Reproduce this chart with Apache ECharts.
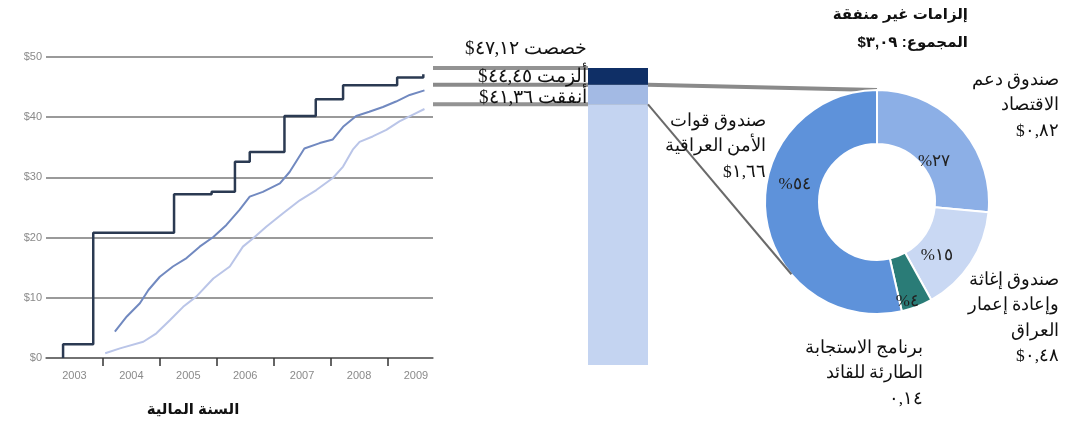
<!DOCTYPE html>
<html><head><meta charset="utf-8">
<script src="https://cdn.jsdelivr.net/npm/echarts@6/dist/echarts.min.js"></script>
<style>html,body{margin:0;padding:0;background:#fff}#c{width:1065px;height:430px;direction:rtl}</style>
</head><body><div id="c" dir="rtl"></div>
<script>
// ---------- data ----------
const yearLabels = ['2003','2004','2005','2006','2007','2008','2009'];
const yearLabelPos = [0.5,1.5,2.5,3.5,4.5,5.5,6.5];
const yearTickPos = [1,2,3,4,5,6];
const allotT = [0.30,0.30,0.83,2.25,2.91,3.32,3.58,4.19,4.74,5.22,6.17,6.63];
const allotV = [0,2.27,20.8,27.2,27.6,32.6,34.2,40.2,43.0,45.3,46.6,47.12];
const obligT = [1.21,1.42,1.65,1.80,2.00,2.23,2.47,2.70,2.94,3.17,3.40,3.58,3.81,4.11,4.28,4.54,4.81,5.04,5.22,5.45,5.68,5.92,6.15,6.39,6.65];
const obligV = [4.4,6.9,9.1,11.3,13.5,15.2,16.6,18.5,20.1,22.1,24.6,26.8,27.6,29.0,30.9,34.8,35.7,36.3,38.4,40.2,40.9,41.7,42.6,43.7,44.45];
const expendT = [1.04,1.30,1.71,1.94,2.18,2.41,2.64,2.94,3.23,3.46,3.64,3.87,4.16,4.46,4.75,5.04,5.22,5.39,5.51,5.74,5.98,6.21,6.44,6.65];
const expendV = [0.8,1.6,2.7,4.1,6.3,8.5,10.2,13.2,15.2,18.5,19.9,21.8,24.0,26.2,27.9,29.9,31.8,34.6,35.9,36.8,37.9,39.3,40.4,41.36];
const summaryLabels = ['خصصت','ألزمت','أنفقت'];
const summaryValues = [47.12, 44.45, 41.36];
const fundNames = ['صندوق دعم\nالاقتصاد','صندوق إغاثة\nوإعادة إعمار\nالعراق','برنامج الاستجابة\nالطارئة للقائد','صندوق قوات\nالأمن العراقية'];
const fundValues = [0.82, 0.48, 0.14, 1.66];
const fundPct = [27, 15, 4, 54];
const fundDollar = [true, true, false, true];
const titleLines = ['إلزامات غير منفقة', 'المجموع:'];
const unexpendedTotal = 3.09;
const xAxisName = 'السنة المالية';

// ---------- helpers ----------
const AR = '٠١٢٣٤٥٦٧٨٩';
const toAr = s => String(s).replace(/[0-9]/g, d => AR[+d]);
const money = (v, dollar) => toAr(v.toFixed(2).replace('.', ',')) + (dollar ? '$' : '');
const zip = (a, b) => a.map((x, i) => [x, b[i]]);

const serif = "'Times New Roman','Liberation Serif','DejaVu Serif',serif";
const sans = "Arial,'Liberation Sans','DejaVu Sans',sans-serif";
const narrow = "'Liberation Sans Narrow','Liberation Sans',Arial,sans-serif";

const pieColors = ['#8cafe6','#c9d8f3','#2a7c77','#5e92da'];
const pieLabelOffset = [[-8,19],[-14,5],[-1,17],[5,-27]];
const PIE_C = [877, 202], PIE_R = [58, 112];

const chart = echarts.init(document.getElementById('c'), null, {renderer:'canvas'});
const option = {
  animation: false,
  backgroundColor: '#fff',
  grid: [
    {left: 46, right: 632, top: 57, bottom: 72, containLabel: false, outerBoundsMode: 'none'},
    {left: 588, width: 60, top: 68, bottom: 65, containLabel: false, outerBoundsMode: 'none'}
  ],
  xAxis: [
    {type: 'value', gridIndex: 0, min: 0, max: 6.8,
     axisLine: {show: true, onZero: false, lineStyle: {color: '#666', width: 1.5}},
     axisTick: {show: true, customValues: yearTickPos, length: 8, lineStyle: {color: '#333', width: 1.5}},
     axisLabel: {customValues: yearLabelPos, formatter: v => yearLabels[Math.floor(v)], color: '#8a8a8a', fontSize: 11, fontFamily: narrow, margin: 12},
     splitLine: {show: false}},
    {type: 'category', gridIndex: 1, data: ['b'], show: false}
  ],
  yAxis: [
    {type: 'value', gridIndex: 0, min: 0, max: 50, interval: 10,
     axisLine: {show: false}, axisTick: {show: false},
     axisLabel: {formatter: v => '$' + v, color: '#8a8a8a', fontSize: 11, fontFamily: narrow, margin: 4},
     splitLine: {lineStyle: {color: '#9a9a9a', width: 2}}},
    {type: 'value', gridIndex: 1, min: 0, max: summaryValues[0], show: false}
  ],
  series: [
    {type: 'line', xAxisIndex: 0, yAxisIndex: 0, data: zip(expendT, expendV), showSymbol: false, z: 3,
     lineStyle: {color: '#bac5e8', width: 2}},
    {type: 'line', xAxisIndex: 0, yAxisIndex: 0, data: zip(obligT, obligV), showSymbol: false, z: 4,
     lineStyle: {color: '#7189c0', width: 2}},
    {type: 'line', xAxisIndex: 0, yAxisIndex: 0, data: zip(allotT, allotV), step: 'end', showSymbol: false, z: 5,
     lineStyle: {color: '#2b3a52', width: 2.5}},
    {type: 'bar', xAxisIndex: 1, yAxisIndex: 1, stack: 's', barWidth: 60, data: [summaryValues[2]],
     itemStyle: {color: '#c4d4f1'}, z: 3},
    {type: 'bar', xAxisIndex: 1, yAxisIndex: 1, stack: 's', barWidth: 60, data: [+(summaryValues[1] - summaryValues[2]).toFixed(2)],
     itemStyle: {color: '#a3bae4'}, z: 3},
    {type: 'bar', xAxisIndex: 1, yAxisIndex: 1, stack: 's', barWidth: 60, data: [+(summaryValues[0] - summaryValues[1]).toFixed(2)],
     itemStyle: {color: '#0f2f66'}, z: 3},
    {type: 'pie', center: PIE_C, radius: PIE_R, startAngle: 90, clockwise: true, avoidLabelOverlap: false,
     emphasis: {disabled: true}, z: 3,
     itemStyle: {borderColor: '#fff', borderWidth: 2},
     labelLine: {show: false},
     label: {show: true, position: 'inside', color: '#222', fontSize: 17, fontFamily: serif,
             formatter: p => toAr(fundPct[p.dataIndex]) + '%'},
     data: fundValues.map((v, i) => ({value: v, name: fundNames[i], itemStyle: {color: pieColors[i]},
             label: {offset: pieLabelOffset[i]}}))}
  ]
};
chart.setOption(option);

// ---------- annotations (connectors & texts) ----------
const p0 = (x, y) => chart.convertToPixel({xAxisIndex: 0, yAxisIndex: 0}, [x, y]);
const p1 = (y) => chart.convertToPixel({xAxisIndex: 1, yAxisIndex: 1}, [0, y]);
const xEnd = p0(6.8, 0)[0];
const barCx = p1(0)[0];
const barL = barCx - 30, barR = barCx + 30;
const yA = p1(summaryValues[0])[1], yB = p1(summaryValues[1])[1], yC = p1(summaryValues[2])[1];
const pieTop = [PIE_C[0], PIE_C[1] - PIE_R[1]];
// lower tangent point on the pie's outer edge, seen from the bar corner
const vx = barR - PIE_C[0], vy = yC - PIE_C[1];
const dist = Math.hypot(vx, vy);
const base = Math.atan2(vy, vx), half = Math.acos(PIE_R[1] / dist);
const tA = base - half;
const pieEdge = [PIE_C[0] + PIE_R[1] * Math.cos(tA), PIE_C[1] + PIE_R[1] * Math.sin(tA)];
const tB = base + half;
const pieEdge2 = [PIE_C[0] + PIE_R[1] * Math.cos(tB), PIE_C[1] + PIE_R[1] * Math.sin(tB)];
const lowEdge = pieEdge[1] > pieEdge2[1] ? pieEdge : pieEdge2;

const g = [];
const conn = {stroke: '#939393', lineWidth: 4};
g.push({type: 'polyline', z: 1, shape: {points: [[xEnd, yA], [barL, yA]]}, style: conn});
g.push({type: 'polyline', z: 1, shape: {points: [[xEnd, yB], [barR, yB], pieTop]}, style: {stroke: '#8a8a8a', lineWidth: 4}});
g.push({type: 'polyline', z: 1, shape: {points: [[xEnd, yC], [barR, yC]]}, style: conn});
g.push({type: 'polyline', z: 8, shape: {points: [[barR, yC], lowEdge]}, style: {stroke: '#6a6a6a', lineWidth: 2}});

const sumOffset = [-19, -8, -6];
summaryLabels.forEach((n, i) => {
  const y = p1(summaryValues[i])[1] + sumOffset[i];
  g.push({type: 'text', z: 10, x: 587, y: y,
    style: {text: n + ' ' + money(summaryValues[i], true), fill: '#111', font: '19px ' + serif,
            textAlign: 'right', textVerticalAlign: 'middle', align: 'right', verticalAlign: 'middle'}});
});

const fundLabelPos = [[1059, 80], [1059, 280], [923, 348], [766, 121]];
fundNames.forEach((n, i) => {
  g.push({type: 'text', z: 10, x: fundLabelPos[i][0], y: fundLabelPos[i][1] - 12.75,
    style: {text: n + '\n' + money(fundValues[i], fundDollar[i]), fill: '#111', font: '17.5px ' + serif,
            lineHeight: 25.5, textAlign: 'right', textVerticalAlign: 'top', align: 'right', verticalAlign: 'top'}});
});

g.push({type: 'text', z: 10, x: 968, y: 1,
  style: {text: titleLines[0] + '\n' + titleLines[1] + ' ' + money(unexpendedTotal, true), fill: '#111',
          font: 'bold 15px ' + sans, lineHeight: 28, textAlign: 'right', textVerticalAlign: 'top', align: 'right', verticalAlign: 'top'}});

g.push({type: 'text', z: 10, x: 193, y: 410,
  style: {text: xAxisName, fill: '#111', font: 'bold 15px ' + sans,
          textAlign: 'center', textVerticalAlign: 'middle', align: 'center', verticalAlign: 'middle'}});

chart.setOption({graphic: {elements: g}});
</script></body></html>
